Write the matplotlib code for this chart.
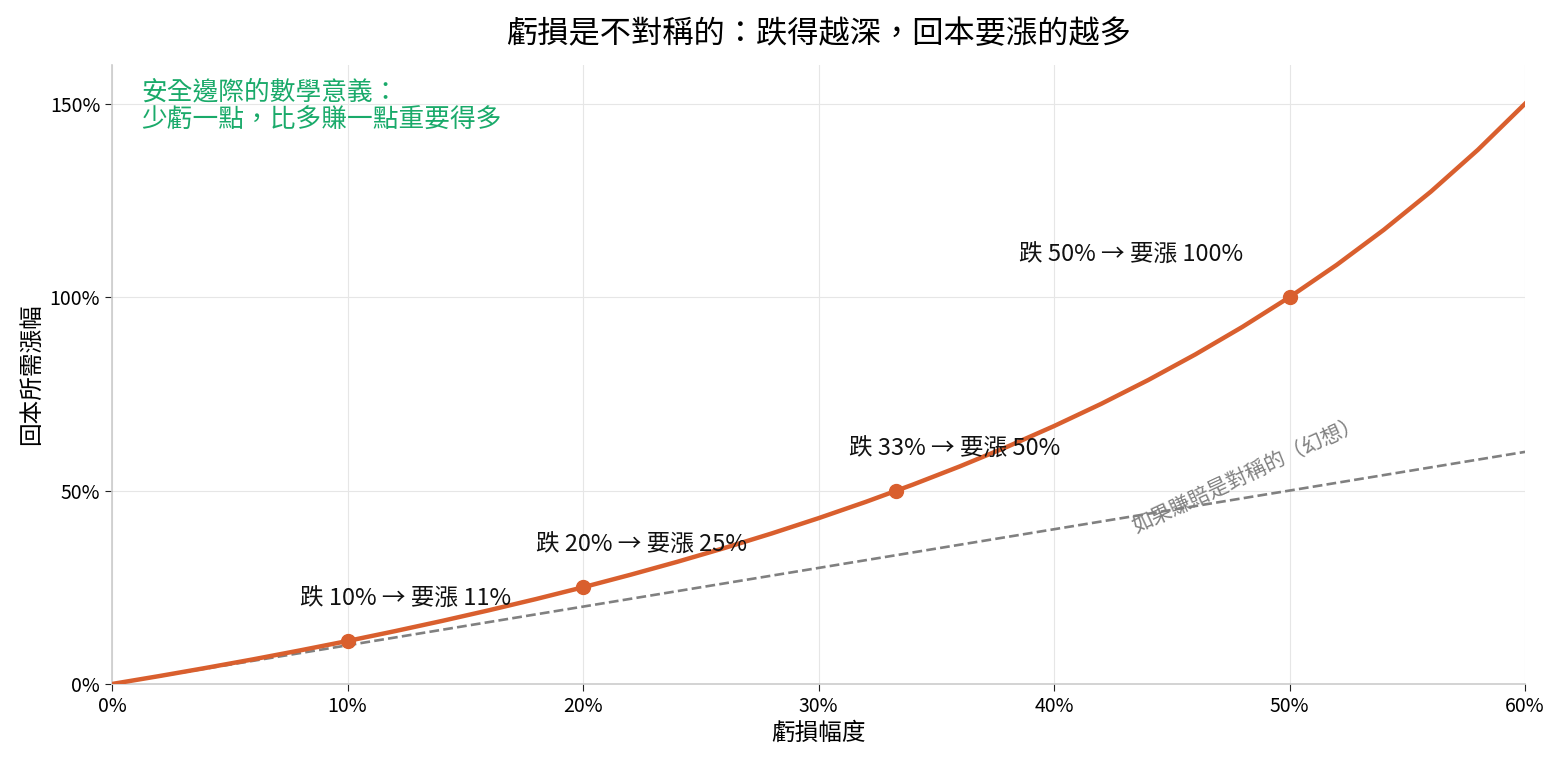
# -*- coding: utf-8 -*-

import matplotlib
matplotlib.use("Agg")
import matplotlib.pyplot as plt
from matplotlib.ticker import PercentFormatter

plt.rcParams['font.family'] = ['Noto Sans CJK TC', 'DejaVu Sans']

ORANGE = "#d95f2e"
GREEN = "#1aaa6a"
GREY = "#808080"

# loss depth vs. gain needed to recover
loss = [0.00, 0.02, 0.04, 0.06, 0.08, 0.10, 0.12, 0.14, 0.16, 0.18, 0.20,
        0.22, 0.24, 0.26, 0.28, 0.30, 0.32, 0.34, 0.36, 0.38, 0.40,
        0.42, 0.44, 0.46, 0.48, 0.50, 0.52, 0.54, 0.56, 0.58, 0.60]
gain_needed = [0.000, 0.0204, 0.0417, 0.0638, 0.0870, 0.1111, 0.1364, 0.1628,
               0.1905, 0.2195, 0.2500, 0.2821, 0.3158, 0.3514, 0.3889, 0.4286,
               0.4706, 0.5152, 0.5625, 0.6129, 0.6667, 0.7241, 0.7857, 0.8519,
               0.9231, 1.0000, 1.0833, 1.1739, 1.2727, 1.3810, 1.5000]

# symmetric "illusion" line
sym_x = [0.0, 0.6]
sym_y = [0.0, 0.6]

# highlighted points
mark_x = [0.10, 0.20, 0.333, 0.50]
mark_y = [0.111, 0.25, 0.50, 1.00]
mark_labels = ["跌 10% → 要漲 11%", "跌 20% → 要漲 25%",
               "跌 33% → 要漲 50%", "跌 50% → 要漲 100%"]
label_offsets = [(42, 30), (42, 30), (42, 30), (-114, 30)]

fig, ax = plt.subplots(figsize=(15.6, 7.65), dpi=100)
fig.subplots_adjust(left=0.0718, right=0.9776, bottom=0.1059, top=0.915)

ax.plot(sym_x, sym_y, linestyle="--", color=GREY, linewidth=1.9, zorder=2)
ax.plot(loss, gain_needed, color=ORANGE, linewidth=3.2, zorder=3)
ax.scatter(mark_x, mark_y, s=100, color=ORANGE, zorder=4)

for x, y, txt, off in zip(mark_x, mark_y, mark_labels, label_offsets):
    ax.annotate(txt, xy=(x, y), xytext=off, textcoords="offset points",
                ha="center", va="center", fontsize=17, color="#111111", zorder=5)

ax.text(0.482, 0.540, "如果賺賠是對稱的（幻想）", rotation=25, color=GREY,
        fontsize=15, ha="center", va="center", rotation_mode="anchor")

ax.text(0.021, 0.976, "安全邊際的數學意義：\n少虧一點，比多賺一點重要得多",
        transform=ax.transAxes, color=GREEN, fontsize=18.5, ha="left", va="top",
        linespacing=1.12)

ax.set_xlim(0, 0.6)
ax.set_ylim(0, 1.6)
ax.set_xticks([0, 0.1, 0.2, 0.3, 0.4, 0.5, 0.6])
ax.set_yticks([0, 0.5, 1.0, 1.5])
ax.xaxis.set_major_formatter(PercentFormatter(1.0, decimals=0))
ax.yaxis.set_major_formatter(PercentFormatter(1.0, decimals=0))
ax.tick_params(labelsize=14, length=5, color="#222222")

ax.grid(True, color="#e6e6e6", linewidth=0.8)
ax.set_axisbelow(True)
for side in ["top", "right"]:
    ax.spines[side].set_visible(False)
for side in ["left", "bottom"]:
    ax.spines[side].set_color("#cccccc")
    ax.spines[side].set_linewidth(1.2)

ax.set_xlabel("虧損幅度", fontsize=17)
ax.set_ylabel("回本所需漲幅", fontsize=17)
ax.set_title("虧損是不對稱的：跌得越深，回本要漲的越多", fontsize=22.5, pad=16,
             fontweight="medium")

plt.savefig("out.png", dpi=100)
